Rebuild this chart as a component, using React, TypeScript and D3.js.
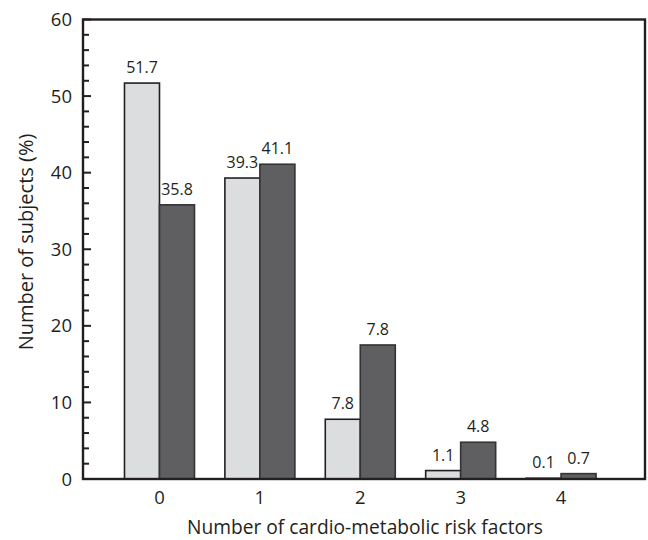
import { useEffect, useRef } from "react";
import * as d3 from "d3";

const categories = ["0", "1", "2", "3", "4"];
const seriesA = [51.7, 39.3, 7.8, 1.1, 0.1];
const seriesB = [35.8, 41.1, 17.5, 4.8, 0.7];
// labels as printed on the figure (the second label of group 2 reads 7.8)
const labelsA = ["51.7", "39.3", "7.8", "1.1", "0.1"];
const labelsB = ["35.8", "41.1", "7.8", "4.8", "0.7"];
const yTicks = [0, 10, 20, 30, 40, 50, 60];
const yMinor = d3.range(0, 61, 2);

const W = 648;
const H = 540;
const FONT = "'Open Sans', sans-serif";
const INK = "#231f20";

export default function App() {
  const svgRef = useRef<SVGSVGElement>(null);

  useEffect(() => {
    if (!svgRef.current) return;
    const svg = d3.select(svgRef.current);
    svg.selectAll("*").remove();

    const left = 83, right = 645, top = 19.5, bottom = 479;

    const x = d3
      .scaleBand<string>()
      .domain(categories)
      .range([left, right])
      .paddingInner(0)
      .paddingOuter(0.299)
      .align(0.438);
    const y = d3.scaleLinear().domain([0, 60]).range([bottom, top]);
    const barW = 35;

    const center = (c: string) => (x(c) ?? 0) + x.bandwidth() / 2;

    const g = svg.append("g");

    // bars
    const groups = g
      .selectAll("g.grp")
      .data(categories)
      .join("g")
      .attr("class", "grp");

    groups
      .append("rect")
      .attr("x", (c) => center(c) - barW)
      .attr("y", (_, i) => y(seriesA[i]))
      .attr("width", barW)
      .attr("height", (_, i) => y(0) - y(seriesA[i]))
      .attr("fill", "#dcdddf")
      .attr("stroke", INK)
      .attr("stroke-width", 1.6);

    groups
      .append("rect")
      .attr("x", (c) => center(c))
      .attr("y", (_, i) => y(seriesB[i]))
      .attr("width", barW)
      .attr("height", (_, i) => y(0) - y(seriesB[i]))
      .attr("fill", "#5f5f61")
      .attr("stroke", "#333335")
      .attr("stroke-width", 1.6);

    groups
      .append("text")
      .attr("x", (c) => center(c) - barW / 2)
      .attr("y", (_, i) => y(seriesA[i]) - 10)
      .attr("text-anchor", "middle")
      .attr("font-size", 16)
      .attr("fill", INK)
      .text((_, i) => labelsA[i]);

    groups
      .append("text")
      .attr("x", (c) => center(c) + barW / 2)
      .attr("y", (_, i) => y(seriesB[i]) - 10)
      .attr("text-anchor", "middle")
      .attr("font-size", 16)
      .attr("fill", INK)
      .text((_, i) => labelsB[i]);

    // minor + major ticks (inside)
    g.selectAll("line.minor")
      .data(yMinor)
      .join("line")
      .attr("x1", left)
      .attr("x2", (d) => (d % 10 === 0 ? left + 8 : left + 6))
      .attr("y1", (d) => y(d))
      .attr("y2", (d) => y(d))
      .attr("stroke", INK)
      .attr("stroke-width", 2);

    // frame
    g.append("rect")
      .attr("x", left)
      .attr("y", top)
      .attr("width", right - left)
      .attr("height", bottom - top)
      .attr("fill", "none")
      .attr("stroke", INK)
      .attr("stroke-width", 2.4);

    // y tick labels
    g.selectAll("text.ytick")
      .data(yTicks)
      .join("text")
      .attr("class", "ytick")
      .attr("x", 72)
      .attr("y", (d) => y(d))
      .attr("dy", "0.36em")
      .attr("text-anchor", "end")
      .attr("font-size", 18.5)
      .attr("fill", INK)
      .text((d) => d);

    // x tick labels
    g.selectAll("text.xtick")
      .data(categories)
      .join("text")
      .attr("class", "xtick")
      .attr("x", (c) => center(c))
      .attr("y", 504)
      .attr("text-anchor", "middle")
      .attr("font-size", 18.5)
      .attr("fill", INK)
      .text((c) => c);

    // axis titles
    g.append("text")
      .attr("x", 365)
      .attr("y", 533.5)
      .attr("text-anchor", "middle")
      .attr("font-size", 19.2)
      .attr("fill", INK)
      .text("Number of cardio-metabolic risk factors");

    g.append("text")
      .attr("transform", "translate(33,242) rotate(-90)")
      .attr("text-anchor", "middle")
      .attr("font-size", 20)
      .attr("fill", INK)
      .text("Number of subjects (%)");
  }, []);

  return (
    <svg
      ref={svgRef}
      width={W}
      height={H}
      style={{ position: "absolute", left: 0, top: 0, background: "#fff", fontFamily: FONT }}
    />
  );
}
